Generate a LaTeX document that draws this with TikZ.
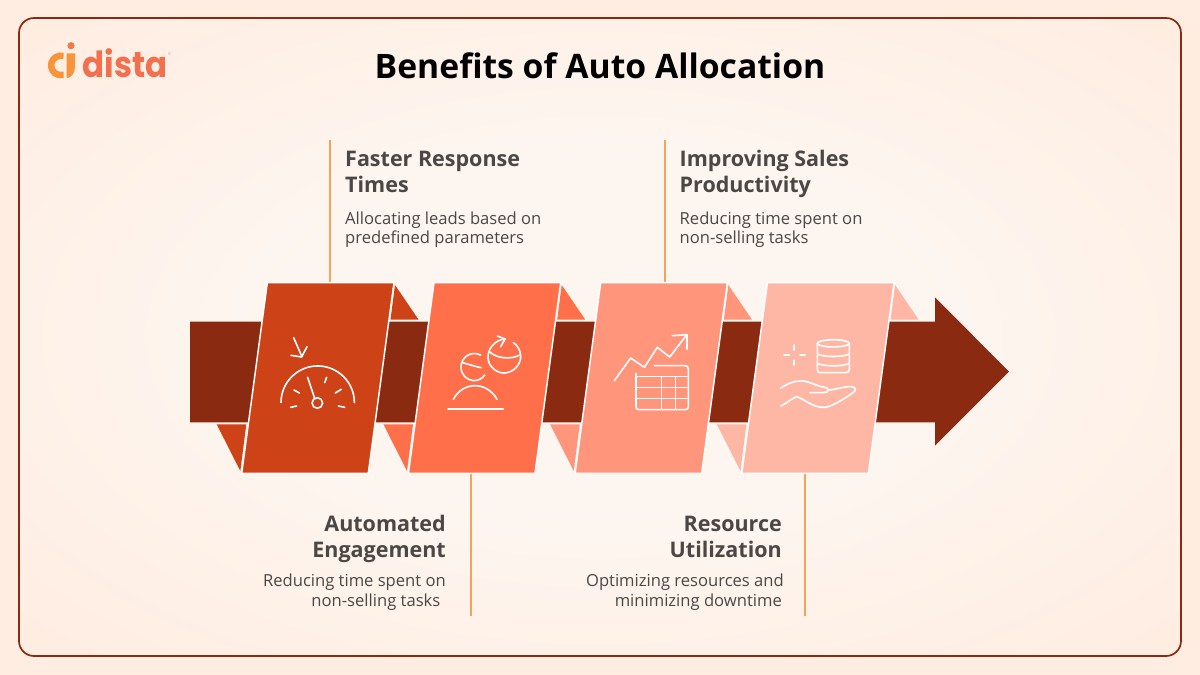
\documentclass[tikz,border=0pt]{standalone}
\usepackage{fontspec}
\usepackage{graphicx}
\setmainfont{Open Sans}
\newfontfamily\logofont{Poppins}
\usetikzlibrary{calc}
\definecolor{dk}{HTML}{8A2A10}
\definecolor{cA}{HTML}{CE4218}
\definecolor{cB}{HTML}{FF6F4A}
\definecolor{cC}{HTML}{FF957B}
\definecolor{cD}{HTML}{FFB7A5}
\definecolor{ldr}{HTML}{F2A45C}
\definecolor{txt}{HTML}{4A4744}
\definecolor{bgin}{HTML}{FDF6F0}
\definecolor{bgout}{HTML}{FFEDE2}
\definecolor{logoO}{HTML}{F8943A}
\definecolor{logoR}{HTML}{F2704E}
\pgfdeclareradialshading{softbg}{\pgfpoint{0bp}{0bp}}{color(0bp)=(bgin);color(14bp)=(bgin);color(34bp)=(bgout);color(50bp)=(bgout)}
\tikzset{
  x=1pt,y=-1pt,
  card/.style={draw=white,line width=1.5pt,line join=miter},
  ldrline/.style={draw=ldr,line width=2pt},
  icon/.style={draw=white,line width=1.6pt,line cap=round,line join=round},
  head/.style={anchor=base,font=\fontsize{21.5}{25}\selectfont\bfseries,text=txt,inner sep=0pt},
  body/.style={anchor=base,font=\fontsize{16.6}{19}\selectfont,text=txt,inner sep=0pt},
  zoomA/.style={shift={#1},x=0.3333pt,y=-0.3333pt},
}
\begin{document}
\begin{tikzpicture}
\useasboundingbox (0,0) rectangle (1200,675);
\fill[bgout] (0,0) rectangle (1200,675);
\shade[shading=softbg,rounded corners=15pt] (19,18) rectangle (1181,656);
\draw[dk,line width=1.7pt,rounded corners=15pt] (19,18) rectangle (1181,656);

% logo
\draw[logoO,line width=6.5pt] (63.5,56) arc[start angle=75,end angle=285,radius=9.8pt];
\fill[logoO] (66.5,53.3) -- (75,53.3) -- (75,67) .. controls (75,73) and (71,78) .. (66.5,78.3) -- cycle;
\fill[logoR!70!logoO] (71,45.7) circle[radius=3.6pt];
\node[anchor=base west,inner sep=0pt,text=logoR,font=\fontsize{36}{36}\selectfont\logofont\bfseries] (logo) at (82.5,77.7) {\scalebox{0.9}[1]{dista}};
\node[anchor=center,inner sep=0pt,text=logoR!55!bgout,font=\fontsize{4}{4}\selectfont] (reg) at (169.5,54) {®};

% title
\node[anchor=base,inner sep=0pt,font=\fontsize{33.7}{40}\selectfont\bfseries,text=black] (title) at (600,78) {Benefits of Auto Allocation};

% leaders
\coordinate (t1a) at (330,140); \coordinate (t1b) at (330,284);
\coordinate (t3a) at (664.5,140); \coordinate (t3b) at (664.5,284);
\coordinate (b2a) at (471,472); \coordinate (b2b) at (471,616);
\coordinate (b4a) at (805,472); \coordinate (b4b) at (805,616);
\draw[ldrline] (t1a) -- (t1b);
\draw[ldrline] (t3a) -- (t3b);
\draw[ldrline] (b2a) -- (b2b);
\draw[ldrline] (b4a) -- (b4b);

% arrow
\fill[dk] (190,321.7) -- (935,321.7) -- (935,297.3) -- (1009,371.7) -- (935,445.7) -- (935,422.3) -- (190,422.3) -- cycle;

% cards
\foreach \i/\c in {0/cA,1/cB,2/cC,3/cD}{
  \begin{scope}[shift={(\i*166.7,0)}]
    \fill[\c] (395,285) -- (418.6,319.7) -- (390.5,319.7) -- cycle;
    \fill[\c] (216.7,424.3) -- (246.3,424.3) -- (240.3,471) -- cycle;
    \path[card,fill=\c] (267.3,282.7) -- (394,282.7) -- (368.3,473.3) -- (241.7,473.3) -- cycle;
  \end{scope}
}

% icon 1
\begin{scope}[zoomA={(180,270)}]
\draw[icon] (341,203) -- (365,258);
\draw[icon] (333,256) -- (365,261) -- (381,230);
\draw[icon] (303,398) arc[start angle=180,end angle=0,radius=36.7pt];
\draw[icon] (383,322) -- (404,385);
\draw[icon] (412,399) circle[radius=5.3pt];
\draw[icon] (342,360) -- (358,369);
\draw[icon] (434,338) -- (440,322);
\draw[icon] (466,369) -- (484,358);
\draw[icon] (332,412) -- (350,408);
\draw[icon] (475,408) -- (494,412);
\end{scope}

% icon 2
\begin{scope}[zoomA={(445,325)}]
\draw[icon] (107,90) .. controls (75,75) and (48,100) .. (48,125) .. controls (48,150) and (65,165) .. (85,167) .. controls (100,168) and (112,160) .. (119,150);
\draw[icon] (52,113) .. controls (70,117) and (90,125) .. (108,128);
\draw[icon] (180,42) .. controls (150,44) and (127,72) .. (129,100) .. controls (131,125) and (155,145) .. (178,144) .. controls (205,143) and (228,120) .. (227,92) .. controls (226,75) and (217,60) .. (205,53);
\draw[icon] (133,80) .. controls (155,100) and (195,105) .. (225,90);
\draw[icon] (157,33) -- (180,42) -- (167,65);
\draw[icon] (25,223) .. controls (40,195) and (65,182) .. (90,182) .. controls (115,182) and (140,195) .. (156,223);
\draw[icon,line width=1.6pt] (9,252) -- (175,252);
\end{scope}

% icon 3
\begin{scope}[zoomA={(605,325)}]
\draw[icon] (28,167) -- (77,99) -- (118,127) -- (157,67) -- (194,96) -- (245,30);
\draw[icon] (202,32) -- (246,29) -- (246,73);
\draw[icon] (148,122) -- (240,122) .. controls (247,122) and (250,126) .. (250,132) -- (250,245) .. controls (250,251) and (247,254) .. (240,254) -- (102,254) .. controls (96,254) and (93,251) .. (93,245) -- (93,145);
\draw[icon] (93,155) -- (250,155);
\draw[icon] (93,188) -- (250,188);
\draw[icon] (93,221) -- (250,221);
\draw[icon] (170,155) -- (170,254);
\draw[icon] (211,155) -- (211,254);
\end{scope}

% icon 4
\begin{scope}[zoomA={(770,330)}]
\draw[icon] (190,40) ellipse[x radius=16pt,y radius=3.6pt];
\draw[icon] (142,40) -- (142,118) .. controls (142,125) and (146,128) .. (152,128) -- (228,128) .. controls (234,128) and (238,125) .. (238,118) -- (238,40);
\draw[icon] (142,72) .. controls (160,82) and (220,82) .. (238,72);
\draw[icon] (142,100) .. controls (160,110) and (220,110) .. (238,100);
\draw[icon] (72,45) -- (72,60);
\draw[icon] (72,90) -- (72,105);
\draw[icon] (42,75) -- (58,75);
\draw[icon] (90,75) -- (105,75);
\draw[icon] (32,175) .. controls (55,158) and (85,148) .. (110,155) .. controls (130,160) and (145,170) .. (165,172) .. controls (180,175) and (178,188) .. (160,188) -- (120,188);
\draw[icon] (175,180) .. controls (195,180) and (225,168) .. (245,170) .. controls (258,172) and (260,180) .. (250,187) .. controls (225,205) and (190,228) .. (165,232) .. controls (130,235) and (100,205) .. (80,200) .. controls (65,205) and (50,220) .. (33,228);
\end{scope}

% texts
\node[head,anchor=base west] (h1a) at (345,166) {Faster Response};
\node[head,anchor=base west] (h1b) at (345,192) {Times};
\node[body,anchor=base west] (d1a) at (345,224.3) {Allocating leads based on};
\node[body,anchor=base west] (d1b) at (345,243.3) {predefined parameters};

\node[head,anchor=base west] (h3a) at (679.5,166) {Improving Sales};
\node[head,anchor=base west] (h3b) at (679.5,192) {Productivity};
\node[body,anchor=base west] (d3a) at (679.5,224.3) {Reducing time spent on};
\node[body,anchor=base west] (d3b) at (679.5,243.3) {non-selling tasks};

\node[head,anchor=base east] (h2a) at (446,531.7) {Automated};
\node[head,anchor=base east] (h2b) at (446,557) {Engagement};
\node[body,anchor=base east] (d2a) at (446,586.7) {Reducing time spent on};
\node[body,anchor=base east] (d2b) at (440.5,606) {non-selling tasks};

\node[head,anchor=base east] (h4a) at (782,531.7) {Resource};
\node[head,anchor=base east] (h4b) at (782,557) {Utilization};
\node[body,anchor=base east] (d4a) at (784,586.7) {Optimizing resources and};
\node[body,anchor=base east] (d4b) at (782,606) {minimizing downtime};
\end{tikzpicture}
\end{document}
